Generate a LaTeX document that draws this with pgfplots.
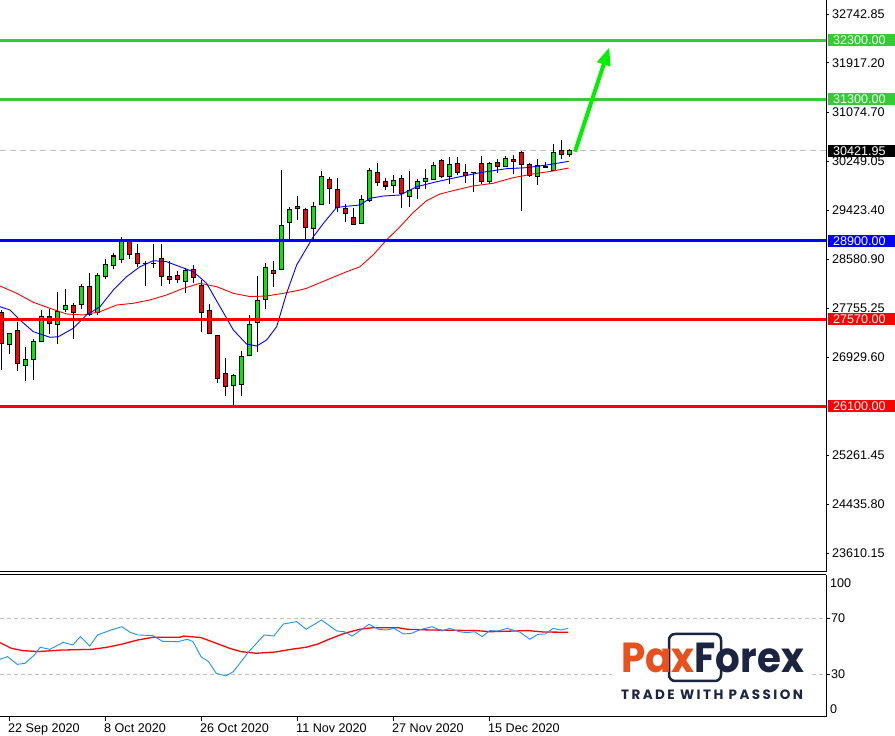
\documentclass[border=0pt]{standalone}
\usepackage{pgfplots}
\pgfplotsset{compat=1.18}
\usepackage{pgfplotstable}
\usetikzlibrary{arrows.meta}
\usepackage{fontspec}
\setmainfont{Liberation Sans}
\newfontfamily\pop{Poppins}
\newfontfamily\popls{Poppins}[LetterSpace=18]
\definecolor{bull}{RGB}{0,235,0}
\definecolor{bear}{RGB}{255,0,0}
\definecolor{lvgreen}{RGB}{50,205,50}
\definecolor{arrowgreen}{RGB}{0,240,0}
\definecolor{rsiblue}{RGB}{30,144,255}
\definecolor{pxorange}{RGB}{232,80,28}
\definecolor{pxnavy}{RGB}{27,36,64}
\definecolor{dashgray}{RGB}{192,192,192}

\pgfplotstableread{
i O H L C
1 27151 27343 26982 27321
3 26784 27096 26530 26880
4 26886 27236 26547 27185
5 27190 27728 27180 27621
7 27478 28038 27156 27694
8 27733 28083 27694 27807
10 27817 28173 27745 28129
12 27689 28359 27643 28315
13 28299 28587 28258 28502
14 28485 28688 28427 28642
15 28587 28970 28529 28880
18 28508 28558 28139 28516
23 28207 28444 28011 28388
29 26445 26643 26062 26615
30 26469 27038 26275 26931
31 26953 27643 26940 27485
32 27519 28309 27021 27892
33 27909 28519 27745 28451
35 28417 30100 28400 29151
36 29213 29478 28914 29434
39 29105 29562 28914 29489
40 29518 30083 29505 29981
45 29197 29676 29185 29603
46 29591 30128 29562 30095
49 29841 30015 29715 29925
51 29655 30083 29478 29756
52 29790 29942 29600 29908
53 29913 30111 29773 29959
54 29947 30235 29935 30167
56 29998 30315 29863 30184
59 30050 30072 29722 30058
61 29901 30229 29857 30201
63 30162 30337 30150 30298
67 29993 30281 29841 30179
68 30145 30241 30140 30153
69 30095 30535 30085 30400
71 30366 30455 30326 30422
}\bulltab

\pgfplotstableread{
i O H L C
0 27677 27728 26711 27168
2 27372 27529 26699 26825
6 27621 27745 27321 27502
9 27807 27846 27241 27682
11 28129 28359 27626 27648
16 28880 28931 28597 28671
17 28688 28846 28451 28519
19 28516 28846 28434 28508
20 28604 28846 28139 28304
21 28299 28550 28163 28241
22 28320 28393 28180 28241
24 28417 28495 28190 28282
25 28134 28236 27360 27689
26 27711 27829 27320 27333
27 27287 27300 26496 26571
28 26655 26920 26275 26435
34 28400 28563 28122 28349
37 29489 29659 29252 29444
38 29434 29456 28914 29122
41 29942 29981 29518 29790
42 29773 29959 29393 29461
43 29439 29518 29224 29366
44 29300 29461 29170 29180
47 30061 30212 29832 29891
48 29908 29959 29761 29829
50 29952 30015 29461 29705
55 30264 30280 29959 29998
57 30213 30315 30015 30066
58 30055 30196 29874 30004
60 30201 30337 29857 29913
62 30218 30286 30055 30162
64 30281 30354 30027 30241
65 30400 30422 29410 30196
66 30196 30224 29976 30015
70 30422 30608 30281 30371
}\beartab

\begin{document}
\begin{tikzpicture}
\path[use as bounding box] (0pt,0pt) rectangle (895pt,736pt);

\begin{axis}[
  at={(0pt,164pt)}, anchor=south west,
  scale only axis, width=826pt, height=572pt,
  xmin=-0.125, xmax=103.125,
  ymin=23288.6, ymax=32980,
  clip mode=individual,
  axis line style={draw=none},
  xtick=\empty,
  ytick={32742.85,31917.20,31074.70,30249.05,29423.40,28580.90,27755.25,26929.60,25261.45,24435.80,23610.15},
  yticklabels={32742.85,31917.20,31074.70,30249.05,29423.40,28580.90,27755.25,26929.60,25261.45,24435.80,23610.15},
  ytick pos=right, yticklabel pos=right,
  tick align=outside, major tick length=3pt,
  tick style={black, line width=0.8pt},
  yticklabel style={anchor=west, inner sep=0pt, xshift=3pt},
  tick label style={font=\fontsize{12.6}{14}\selectfont, text=black},
]
% current price
\addplot[dashgray, line width=1pt, dash pattern=on 6pt off 4pt] coordinates {(-0.125,30421.95) (103.125,30421.95)};
% wicks
\addplot[draw=none, mark=none, error bars/.cd, y dir=plus, y explicit, error mark=none,
  error bar style={line width=1pt, draw=black}]
  table[x=i, y=L, y error plus expr=\thisrow{H}-\thisrow{L}] \bulltab;
\addplot[draw=none, mark=none, error bars/.cd, y dir=plus, y explicit, error mark=none,
  error bar style={line width=1pt, draw=black}]
  table[x=i, y=L, y error plus expr=\thisrow{H}-\thisrow{L}] \beartab;
% bodies outline
\addplot[draw=none, mark=none, error bars/.cd, y dir=plus, y explicit, error mark=none,
  error bar style={line width=5pt, draw=black}]
  table[x=i, y expr={min(\thisrow{O},\thisrow{C})-9}, y error plus expr={abs(\thisrow{C}-\thisrow{O})+18}] \bulltab;
\addplot[draw=none, mark=none, error bars/.cd, y dir=plus, y explicit, error mark=none,
  error bar style={line width=5pt, draw=black}]
  table[x=i, y expr={min(\thisrow{O},\thisrow{C})-9}, y error plus expr={abs(\thisrow{C}-\thisrow{O})+18}] \beartab;
% bodies fill
\addplot[draw=none, mark=none, error bars/.cd, y dir=plus, y explicit, error mark=none,
  error bar style={line width=3pt, draw=bull}]
  table[x=i, y expr={min(\thisrow{O},\thisrow{C})+8}, y error plus expr={max(abs(\thisrow{C}-\thisrow{O})-16,0)}] \bulltab;
\addplot[draw=none, mark=none, error bars/.cd, y dir=plus, y explicit, error mark=none,
  error bar style={line width=3pt, draw=bear}]
  table[x=i, y expr={min(\thisrow{O},\thisrow{C})+8}, y error plus expr={max(abs(\thisrow{C}-\thisrow{O})-16,0)}] \beartab;
% moving averages
\addplot[red, line width=0.9pt] coordinates {
(-0.125,28134) (1.96,28011) (4.04,27858) (6.125,27756) (8.2,27660) (10.3,27643) (12.375,27699)
(14.46,27812) (16.5,27841) (18.6,27897) (20.7,27982) (22.8,28095) (24.875,28180) (26.96,28122)
(29.04,28011) (31.125,27954) (33.2,27965) (35.3,28011) (37.375,28066) (38.2,28095) (40.7,28236)
(43.2,28376) (44.875,28461) (46.5,28659) (48.2,28914) (49.875,29139) (51.5,29376) (53.2,29580)
(54.875,29693) (56.5,29749) (59,29829) (61.5,29874) (64,29969) (66.5,30032) (69,30083) (70.96,30133)};
\addplot[blue, line width=0.9pt] coordinates {
(-0.125,27783) (1.125,27728) (2.375,27558) (4.04,27360) (6.125,27265) (7.17,27275) (9.04,27418)
(10.7,27643) (12.375,27783) (14.04,28066) (15.7,28292) (17.375,28461) (19.04,28563) (20.7,28546)
(22.375,28461) (24.04,28376) (25.7,28180) (27.375,27783) (29.04,27389) (30.7,27151) (31.96,27117)
(33.2,27219) (34.46,27445) (35.7,28011) (36.96,28490) (39.04,28969) (40.3,29196) (41.96,29467)
(44.875,29507) (46.125,29620) (47.8,29659) (49.875,29676) (51.96,29817) (54.46,29901) (57.375,29986)
(59.875,30054) (63.2,30122) (65.7,30139) (68.2,30184) (70.96,30247)};
% levels
\addplot[lvgreen, line width=3pt] coordinates {(-0.125,32300) (103.125,32300)};
\addplot[lvgreen, line width=3pt] coordinates {(-0.125,31300) (103.125,31300)};
\addplot[blue, line width=3pt] coordinates {(-0.125,28900) (103.125,28900)};
\addplot[bear, line width=3pt] coordinates {(-0.125,27570) (103.125,27570)};
\addplot[bear, line width=3pt] coordinates {(-0.125,26100) (103.125,26100)};
% arrow
\addplot[arrowgreen, line width=4pt, -{Triangle[length=18pt,width=13pt]}] coordinates {(71.75,30410) (76.04,32179)};
% frame
\draw[black, line width=1pt] (rel axis cs:1,0) -- (rel axis cs:1,1);
\draw[black, line width=1pt] (rel axis cs:0,0) -- (rel axis cs:1,0);
\coordinate (Lg1) at (axis cs:103.125,32300);
\coordinate (Lg2) at (axis cs:103.125,31300);
\coordinate (Lcur) at (axis cs:103.125,30421.95);
\coordinate (Lb) at (axis cs:103.125,28900);
\coordinate (Lr1) at (axis cs:103.125,27570);
\coordinate (Lr2) at (axis cs:103.125,26100);
\end{axis}

\begin{axis}[
  at={(0pt,19pt)}, anchor=south west,
  scale only axis, width=826pt, height=142pt,
  xmin=-0.125, xmax=103.125,
  ymin=-0.71, ymax=100.71,
  clip mode=individual,
  axis line style={draw=none},
  xtick={1,13,25,37,49,61},
  xticklabels={22 Sep 2020,8 Oct 2020,26 Oct 2020,11 Nov 2020,27 Nov 2020,15 Dec 2020},
  xtick pos=bottom, xticklabel pos=bottom,
  ytick={30,70}, yticklabels={30,70},
  ytick pos=right, yticklabel pos=right,
  tick align=outside, major tick length=4pt,
  tick style={black, line width=0.8pt},
  xticklabel style={anchor=north west, inner sep=0pt, xshift=-1pt, yshift=-3pt},
  yticklabel style={anchor=west, inner sep=0pt, xshift=1pt},
  tick label style={font=\fontsize{12.6}{14}\selectfont, text=black},
]
\addplot[dashgray, line width=0.9pt, dash pattern=on 4pt off 3pt] coordinates {(-0.125,70) (103.125,70)};
\addplot[dashgray, line width=0.9pt, dash pattern=on 4pt off 3pt] coordinates {(-0.125,30) (103.125,30)};
\addplot[red, line width=1.3pt] coordinates {
(-0.125,52.4) (1.31,48.3) (2.75,46.7) (4.66,46) (7.53,47.1) (11.36,47.6) (13.27,49.1) (15.18,51.4)
(17.1,54.3) (19,56.2) (22.36,56.2) (22.8,57.1) (25,56) (26.7,52.4) (28.6,48.3) (30,46) (31.9,44.8)
(34.3,45.7) (36.2,47.6) (38.15,49.1) (39.6,51.4) (41,54.8) (42.9,59) (44.8,61.9) (46.5,63.1)
(49.6,63.1) (50.8,61.9) (53.9,61.4) (59.4,61) (61.1,60.2) (65.9,61) (67.8,60) (70.9,59.8)};
\addplot[rsiblue, line width=0.9pt] coordinates {
(-0.125,40.5) (0.83,42.4) (2.03,36.9) (2.98,37.6) (4.18,43.6) (4.9,49.1) (6.1,47.6) (7.77,52.6)
(8.97,50.7) (9.92,56.7) (11.1,50) (12.07,57.9) (13.75,61.4) (15.09,63.8) (16.14,59.8) (17.1,57.9)
(19,57.4) (20.2,53.3) (22.1,53.1) (23.3,54.8) (24,53.1) (25,42.4) (25.95,38.8) (26.9,30.5)
(28.1,28.6) (29.05,31.7) (30.97,45.9) (32.9,57.9) (34.1,57.1) (35.3,65.7) (36.95,67.4) (38.15,61.9)
(40.06,68.6) (41.97,60.7) (42.9,60.2) (43.9,57.1) (46,65.5) (47.2,61.9) (48.2,61.4) (49.15,62.6)
(50.3,58.6) (51.3,59) (52.5,61.9) (53.9,63.8) (55.1,60.7) (56.1,62.6) (57.3,60.2) (58.2,59.5)
(59.2,60.2) (60.15,56.7) (61.1,61) (62.06,60.7) (63.26,62.6) (64.2,61) (64.9,59.8) (66.1,54.8)
(67.1,58.3) (68.05,58.6) (69,62.6) (69.96,61.4) (70.9,62.6)};
\draw[black, line width=1pt] (rel axis cs:0,1) -- (rel axis cs:1,1);
\draw[black, line width=1pt] (rel axis cs:0,0) -- (rel axis cs:1,0);
\draw[black, line width=1pt] (rel axis cs:1,0) -- (rel axis cs:1,1);
\end{axis}

% RSI extreme labels
\node[anchor=west, inner sep=0pt, font=\fontsize{12.6}{14}\selectfont] at (830pt,153pt) {100};
\node[anchor=west, inner sep=0pt, font=\fontsize{12.6}{14}\selectfont] at (830pt,27pt) {0};

% level boxes
\tikzset{lvbox/.style={anchor=west, inner xsep=5pt, inner ysep=0pt, minimum height=12pt,
  text width=58pt, align=left, text=white, font=\fontsize{12.6}{14}\selectfont}}
\node[lvbox, fill=lvgreen] at ([xshift=2pt]Lg1) {32300.00};
\node[lvbox, fill=lvgreen] at ([xshift=2pt]Lg2) {31300.00};
\node[lvbox, fill=black] at ([xshift=2pt]Lcur) {30421.95};
\node[lvbox, fill=blue] at ([xshift=2pt]Lb) {28900.00};
\node[lvbox, fill=bear] at ([xshift=2pt]Lr1) {27570.00};
\node[lvbox, fill=bear] at ([xshift=2pt]Lr2) {26100.00};

% logo
\fill[white] (612pt,30pt) rectangle (812pt,104pt);
\draw[pxnavy, line width=2.5pt, rounded corners=6pt] (669pt,55pt) rectangle (721pt,102pt);
\node[anchor=base west, inner sep=0pt, xscale=0.925, font=\pop\bfseries\fontsize{42}{42}\selectfont] at (621pt,63pt)
  {\textcolor{pxorange}{Pax}\textcolor{pxnavy}{Forex}};
\node[anchor=base west, inner sep=0pt, font=\popls\bfseries\fontsize{13.5}{14}\selectfont, text=pxnavy] at (621pt,36pt)
  {TRADE WITH PASSION};
\end{tikzpicture}
\end{document}
